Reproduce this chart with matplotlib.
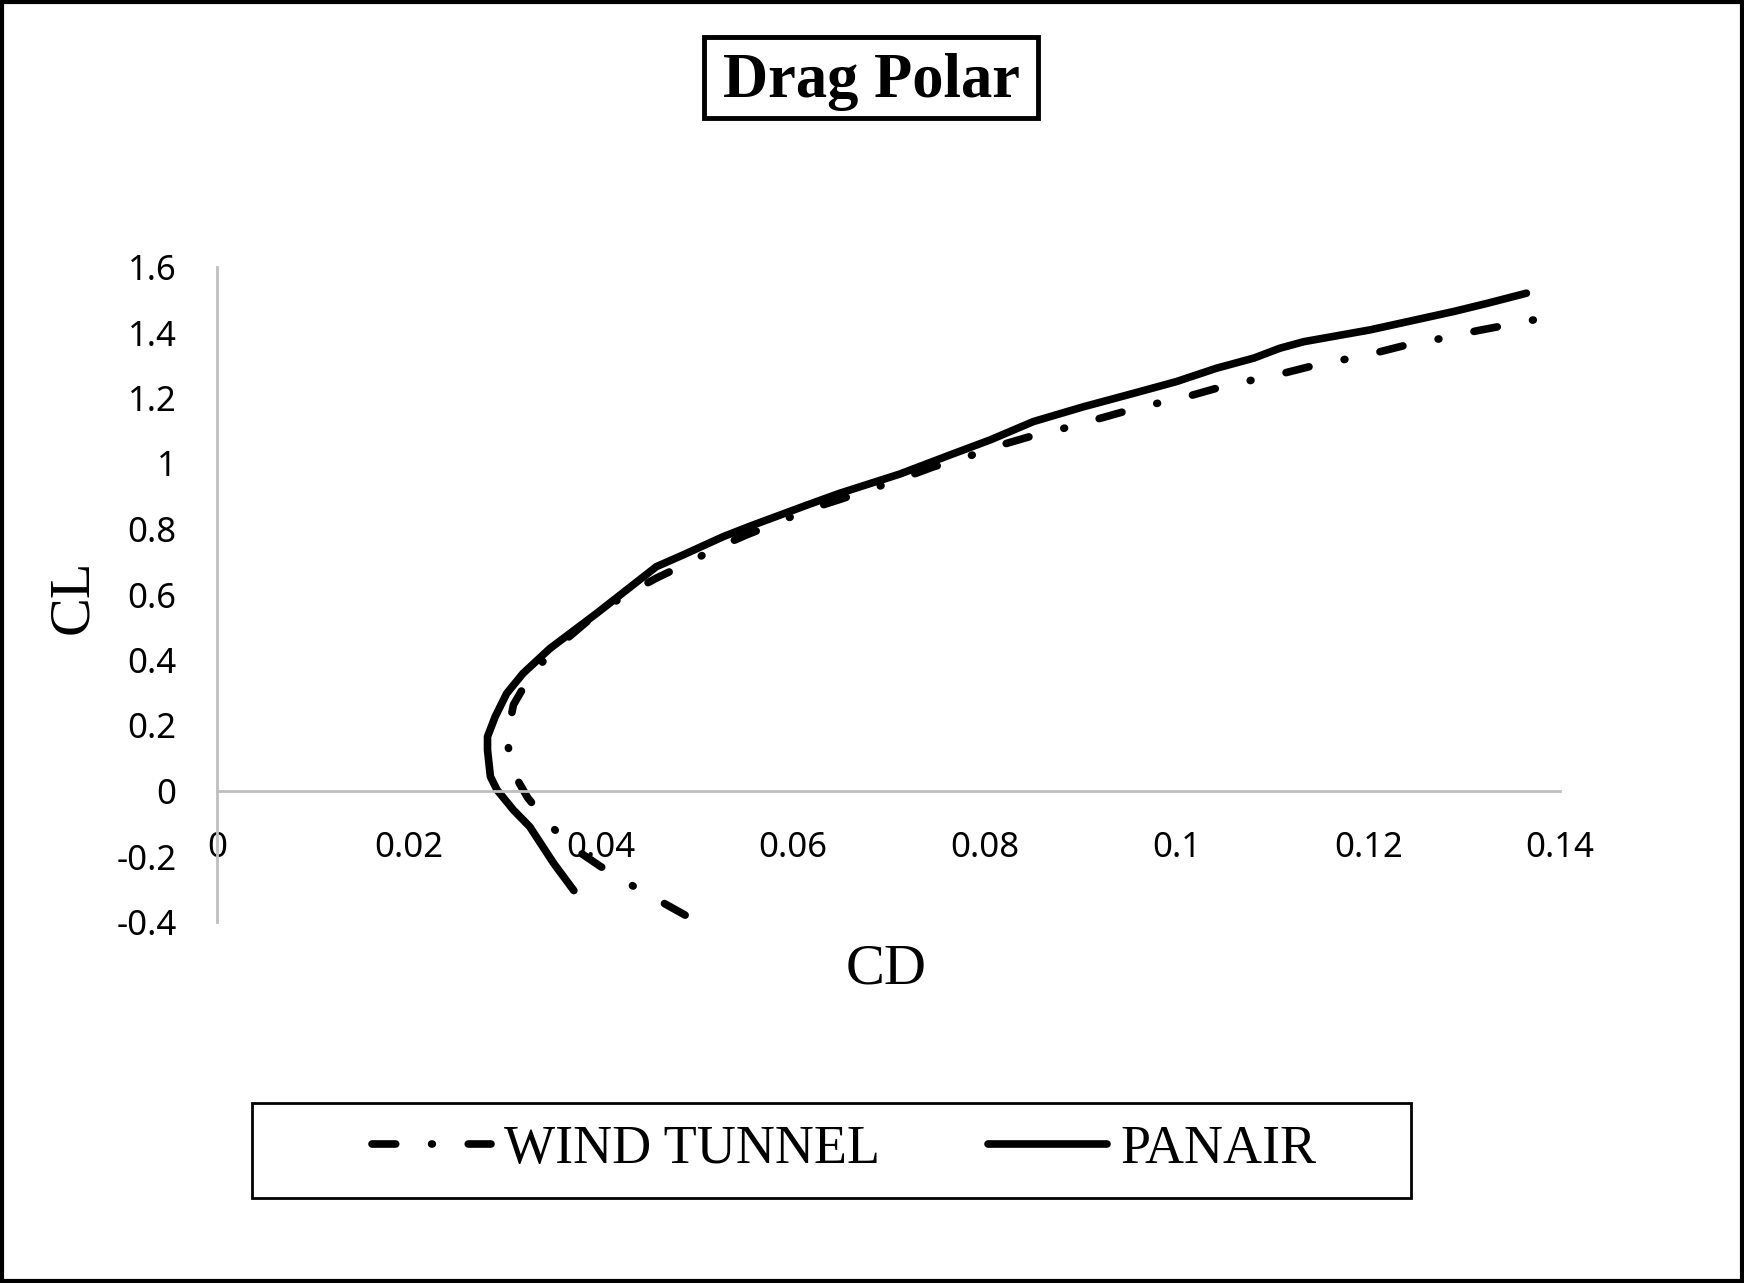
import matplotlib
matplotlib.use("Agg")
import matplotlib.pyplot as plt
from matplotlib.lines import Line2D
from matplotlib.patches import Rectangle

# ---------------- data ----------------
panair_cd = [0.0372, 0.0351, 0.0326, 0.0309, 0.0292, 0.0285, 0.0282, 0.0282, 0.0290,
             0.0302, 0.0319, 0.0347, 0.0396, 0.0427, 0.0458, 0.0486, 0.0528, 0.0556,
             0.0615, 0.0649, 0.0712, 0.0764, 0.0806, 0.0851, 0.0903, 0.0955, 0.1000,
             0.1042, 0.1081, 0.1108, 0.1133, 0.1202, 0.1289, 0.1324, 0.1365]
panair_cl = [-0.304, -0.221, -0.109, -0.058, 0.003, 0.044, 0.125, 0.166, 0.227,
             0.298, 0.359, 0.435, 0.543, 0.614, 0.685, 0.721, 0.777, 0.809,
             0.873, 0.909, 0.968, 1.026, 1.072, 1.128, 1.173, 1.214, 1.250,
             1.291, 1.322, 1.352, 1.372, 1.408, 1.464, 1.489, 1.520]

wind_cd = [0.0488, 0.0430, 0.0399, 0.0373, 0.0347, 0.0324, 0.0309, 0.0302, 0.0309,
           0.0324, 0.0347, 0.0396, 0.0429, 0.0458, 0.0490, 0.0520, 0.0552, 0.0582,
           0.0615, 0.0648, 0.0679, 0.0712, 0.0747, 0.0778, 0.0811, 0.0846, 0.0876,
           0.0911, 0.0945, 0.0976, 0.1011, 0.1046, 0.1075, 0.1111, 0.1146, 0.1176,
           0.1212, 0.1247, 0.1277, 0.1313, 0.1377]
wind_cl = [-0.379, -0.284, -0.229, -0.177, -0.104, -0.021, 0.055, 0.158, 0.263,
           0.339, 0.421, 0.543, 0.604, 0.650, 0.695, 0.741, 0.782, 0.817,
           0.858, 0.889, 0.919, 0.952, 0.990, 1.016, 1.051, 1.081, 1.102,
           1.130, 1.158, 1.181, 1.204, 1.233, 1.252, 1.275, 1.301, 1.318,
           1.341, 1.367, 1.382, 1.405, 1.441]

x_ticks = [0, 0.02, 0.04, 0.06, 0.08, 0.10, 0.12, 0.14]
x_tick_labels = ["0", "0.02", "0.04", "0.06", "0.08", "0.1", "0.12", "0.14"]
y_ticks = [-0.4, -0.2, 0, 0.2, 0.4, 0.6, 0.8, 1.0, 1.2, 1.4, 1.6]
y_tick_labels = ["-0.4", "-0.2", "0", "0.2", "0.4", "0.6", "0.8", "1", "1.2", "1.4", "1.6"]

title_text = "Drag Polar"
x_label = "CD"
y_label = "CL"
series_labels = ["WIND TUNNEL", "PANAIR"]

# ---------------- figure ----------------
W, H = 1744, 1283
fig = plt.figure(figsize=(W / 100, H / 100), dpi=100)
fig.patch.set_facecolor("white")

ax = fig.add_axes([217 / W, 1 - 922 / H, (1560 - 217) / W, (922 - 267) / H])
ax.set_xlim(0, 0.14)
ax.set_ylim(-0.4, 1.6)

grey = "#BFBFBF"
for s in ["top", "right"]:
    ax.spines[s].set_visible(False)
ax.spines["left"].set_color(grey)
ax.spines["left"].set_linewidth(2)
ax.spines["bottom"].set_color(grey)
ax.spines["bottom"].set_linewidth(2)
ax.spines["bottom"].set_position(("data", 0))

ax.set_xticks(x_ticks)
ax.set_xticklabels(x_tick_labels)
ax.set_yticks(y_ticks)
ax.set_yticklabels(y_tick_labels)
ax.tick_params(axis="both", length=0, labelsize=25, pad=29, colors="black")
for lab in ax.get_xticklabels() + ax.get_yticklabels():
    lab.set_fontfamily("Noto Sans")

lw = 5.5
wt_line, = ax.plot(wind_cd, wind_cl, color="black", lw=lw,
                   dashes=[3.1, 4.7, 0.1, 4.7], dash_capstyle="round",
                   solid_capstyle="round", clip_on=False)
pa_line, = ax.plot(panair_cd, panair_cl, color="black", lw=lw,
                   solid_capstyle="round", solid_joinstyle="round", clip_on=False)

serif = "Liberation Serif"

# axis labels
fig.text(886 / W, 1 - 984 / H, x_label, ha="center", va="baseline",
         fontsize=42, fontfamily=serif)
fig.text(73 / W, 1 - 597 / H, y_label, ha="center", va="center", rotation=90,
         fontsize=42, fontfamily=serif)

# title with box
fig.text(871 / W, 1 - 97 / H, title_text, ha="center", va="baseline",
         fontsize=45, fontweight="bold", fontfamily=serif)
fig.patches.append(Rectangle((704 / W, 1 - 118 / H), 334 / W, 81 / H,
                             transform=fig.transFigure, fill=False,
                             edgecolor="black", lw=3.5))

# legend
h1 = Line2D([], [], color="black", lw=lw, dashes=[3.1, 4.7, 0.1, 4.7],
            dash_capstyle="round", solid_capstyle="round")
h2 = Line2D([], [], color="black", lw=lw, solid_capstyle="round")
leg = fig.legend([h1, h2], series_labels, loc="center",
                 bbox_to_anchor=(844 / W, 1 - 1150 / H), ncol=2, frameon=False,
                 prop={"family": serif, "size": 39}, handlelength=2.2,
                 handletextpad=0.24, columnspacing=2.0)
fig.patches.append(Rectangle((252 / W, 1 - 1198 / H), (1411 - 252) / W, 95 / H,
                             transform=fig.transFigure, fill=False,
                             edgecolor="black", lw=2))

# outer frame
fig.patches.append(Rectangle((0.0012, 0.0016), 0.9976, 0.9968,
                             transform=fig.transFigure, fill=False,
                             edgecolor="black", lw=3))

fig.savefig("out.png", dpi=100)
